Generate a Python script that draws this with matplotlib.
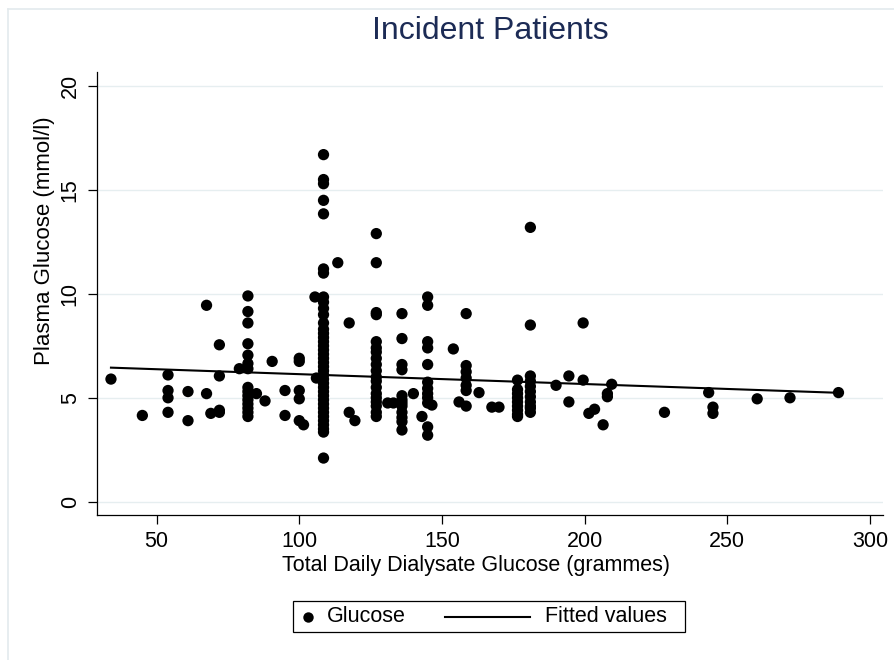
import numpy as np
import matplotlib
matplotlib.use("Agg")
import matplotlib.pyplot as plt
from matplotlib.lines import Line2D
from matplotlib.patches import Rectangle

plt.rcParams["font.family"] = ["Liberation Sans", "DejaVu Sans"]

# total daily dialysate glucose (g) and plasma glucose (mmol/l), one entry per patient
dialysate_g = [
    34, 45,
    54, 54, 54, 54,
    61, 61,
    67.5, 67.5, 69,
    72, 72, 72, 72,
    79,
    82, 82, 82, 82, 82, 82, 82, 82, 82, 82, 82, 82, 82, 82, 82,
    85, 88, 90.5, 95, 95,
    100, 100, 100, 100, 100, 101.5,
    105.5, 106,
    108.5, 108.5, 108.5, 108.5, 108.5, 108.5, 108.5, 108.5, 108.5, 108.5,
    108.5, 108.5, 108.5, 108.5, 108.5, 108.5, 108.5, 108.5, 108.5, 108.5,
    108.5, 108.5, 108.5, 108.5, 108.5, 108.5, 108.5, 108.5, 108.5, 108.5,
    108.5, 108.5, 108.5, 108.5, 108.5, 108.5, 108.5, 108.5, 108.5,
    113.5, 117.5, 117.5, 119.5,
    127, 127, 127, 127, 127, 127, 127, 127, 127, 127,
    127, 127, 127, 127, 127, 127, 127, 127, 127,
    131, 133,
    136, 136, 136, 136, 136, 136, 136, 136, 136, 136, 136, 136,
    140, 143,
    145, 145, 145, 145, 145, 145, 145, 145, 145, 145, 145, 145,
    146.5, 154, 156,
    158.5, 158.5, 158.5, 158.5, 158.5, 158.5, 158.5,
    163, 167.5, 170,
    176.5, 176.5, 176.5, 176.5, 176.5, 176.5, 176.5, 176.5, 176.5,
    181, 181, 181, 181, 181, 181, 181, 181, 181, 181, 181,
    190, 194.5, 194.5, 199.5, 199.5, 201.5, 203.5, 206.5,
    208, 208, 209.5, 228, 243.5, 245, 245, 260.5, 272, 289,
]
plasma_mmol = [
    5.9, 4.15,
    6.1, 5.35, 5.0, 4.3,
    5.3, 3.9,
    9.45, 5.2, 4.25,
    7.55, 6.05, 4.4, 4.3,
    6.4,
    9.9, 9.15, 8.6, 7.6, 7.05, 6.65, 6.4, 5.5, 5.3, 5.1, 4.9, 4.7, 4.5, 4.3, 4.1,
    5.2, 4.85, 6.75, 5.35, 4.15,
    6.9, 6.75, 5.35, 4.95, 3.9, 3.7,
    9.85, 5.95,
    16.7, 15.5, 15.3, 14.5, 13.85, 11.2, 11.0, 9.85, 9.6, 9.3,
    9.0, 8.6, 8.3, 8.1, 7.9, 7.7, 7.5, 7.3, 7.1, 6.9,
    6.7, 6.5, 6.3, 6.1, 5.9, 5.7, 5.5, 5.3, 5.1, 4.9,
    4.7, 4.5, 4.3, 4.1, 3.9, 3.7, 3.5, 3.35, 2.1,
    11.5, 8.6, 4.3, 3.9,
    12.9, 11.5, 9.1, 9.0, 7.7, 7.4, 7.2, 6.9, 6.6, 6.3,
    6.0, 5.8, 5.5, 5.2, 5.0, 4.8, 4.6, 4.3, 4.1,
    4.75, 4.75,
    9.05, 7.85, 6.6, 6.35, 5.1, 4.9, 4.75, 4.6, 4.3, 4.05, 3.85, 3.45,
    5.2, 4.1,
    9.85, 9.45, 7.7, 7.4, 6.6, 5.75, 5.45, 5.2, 5.0, 4.75, 3.6, 3.2,
    4.65, 7.35, 4.8,
    9.05, 6.55, 6.25, 5.95, 5.6, 5.35, 4.6,
    5.25, 4.55, 4.55,
    5.85, 5.4, 5.2, 5.0, 4.8, 4.6, 4.4, 4.2, 4.1,
    13.2, 8.5, 6.05, 5.8, 5.55, 5.3, 5.05, 4.8, 4.5, 4.3, 4.6,
    5.6, 6.05, 4.8, 8.6, 5.85, 4.25, 4.45, 3.7,
    5.05, 5.2, 5.65, 4.3, 5.25, 4.55, 4.25, 4.95, 5.0, 5.25,
]

# fitted values at the lowest and highest dialysate glucose
fitted_ends = [6.45, 5.24]

x_ticks = [50, 100, 150, 200, 250, 300]
y_ticks = [0, 5, 10, 15, 20]

x = np.array(dialysate_g, dtype=float)
y = np.array(plasma_mmol, dtype=float)
x_fit = np.array([x.min(), x.max()])
y_fit = np.array(fitted_ends)

W, H = 895, 660
fig = plt.figure(figsize=(W / 100, H / 100), dpi=100)
fig.patch.set_facecolor("white")


def fx(px):
    return px / W


def fy(py):
    return 1 - py / H


ax = fig.add_axes([fx(96.7), fy(515), fx(883) - fx(96.7), fy(71.7) - fy(515)])
ax.set_xlim(29, 304.6)
ax.set_ylim(-0.64, 20.69)

for v in y_ticks:
    ax.axhline(v, color="#e6eef0", lw=1.0, zorder=0)

ax.scatter(x, y, s=66, color="black", edgecolors="none", zorder=3)
ax.plot(x_fit, y_fit, color="black", lw=1.5, zorder=4)

for side in ("top", "right"):
    ax.spines[side].set_visible(False)
for side in ("left", "bottom"):
    ax.spines[side].set_color("black")
    ax.spines[side].set_linewidth(0.9)

ax.set_xticks(x_ticks)
ax.set_yticks(y_ticks)
ax.tick_params(axis="both", direction="out", length=6.5, width=0.9,
               color="black", labelsize=15.5, labelcolor="black")
ax.tick_params(axis="x", pad=5)
ax.tick_params(axis="y", pad=5)
for lab in ax.get_yticklabels():
    lab.set_rotation(90)
    lab.set_va("center")

ax.set_xlabel("Total Daily Dialysate Glucose (grammes)", fontsize=15.5)
ax.xaxis.set_label_coords((476 - 96.7) / 786.3, -(566 - 515) / 443.3)
ax.xaxis.label.set_va("center")
ax.set_ylabel("Plasma Glucose (mmol/l)", fontsize=16)
ax.yaxis.set_label_coords(-(96.7 - 45) / 786.3, (515 - 241) / 443.3)
ax.yaxis.label.set_va("center")

fig.text(fx(490), fy(31), "Incident Patients", fontsize=23, color="#1c2b55",
         ha="center", va="center")

# outer graph-region border
fig.add_artist(Line2D([fx(8), fx(8)], [fy(9), fy(H)], color="#e3eaed", lw=1.2))
fig.add_artist(Line2D([fx(8), fx(W)], [fy(9), fy(9)], color="#e3eaed", lw=1.2))

# legend box
fig.add_artist(Rectangle((fx(293), fy(632)), fx(685) - fx(293), fy(601) - fy(632),
                         transform=fig.transFigure, facecolor="white",
                         edgecolor="black", lw=0.9))
ly = fy(616.5)
fig.add_artist(Line2D([fx(308)], [ly], marker="o", markersize=7.5, color="black",
                      markeredgewidth=0, linestyle="none"))
fig.text(fx(327), ly, "Glucose", fontsize=15.5, ha="left", va="center")
fig.add_artist(Line2D([fx(445), fx(530)], [ly, ly], color="black", lw=1.5))
fig.text(fx(545), ly, "Fitted values", fontsize=15.5, ha="left", va="center")

fig.savefig("out.png", dpi=100, facecolor="white")
